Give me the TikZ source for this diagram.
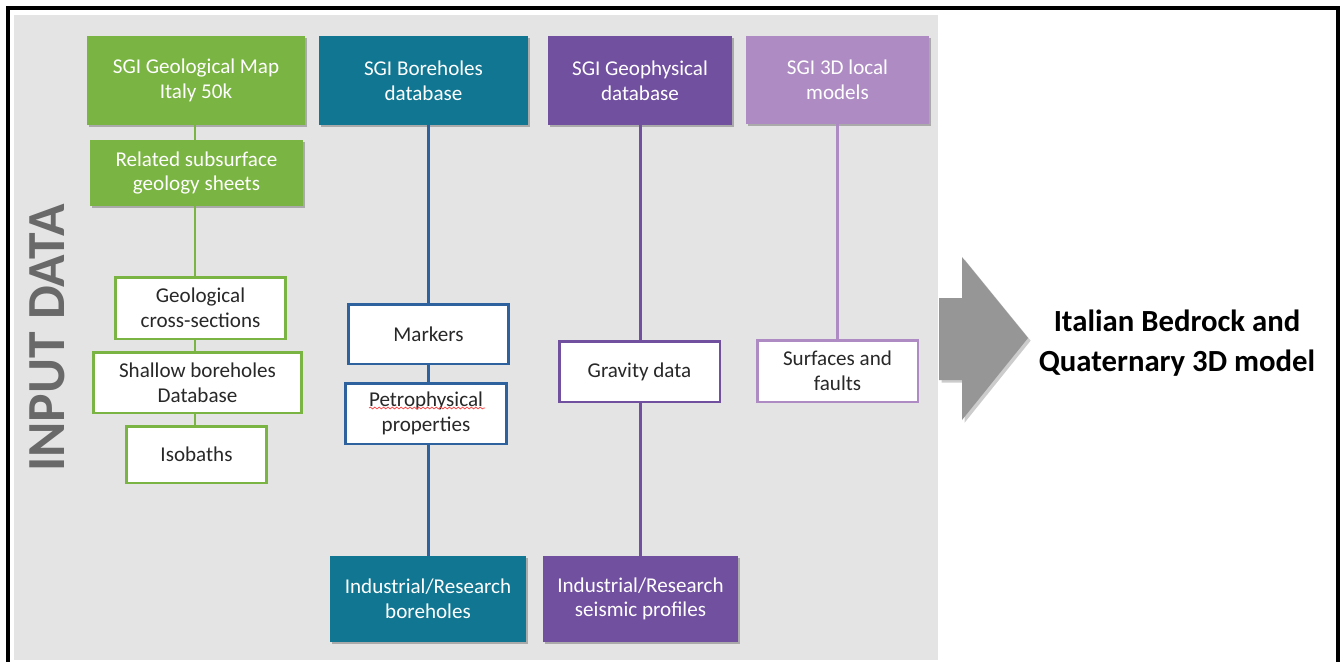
\documentclass[tikz,border=0pt]{standalone}
\usepackage{fontspec}
\setmainfont{Carlito}
\usetikzlibrary{shadows,decorations.pathmorphing}
\definecolor{grn}{RGB}{122,180,66}
\definecolor{teal}{RGB}{16,118,145}
\definecolor{blu}{RGB}{46,98,158}
\definecolor{purp}{RGB}{113,80,160}
\definecolor{lilac}{RGB}{174,140,195}
\definecolor{panel}{RGB}{228,228,228}
\definecolor{txt}{RGB}{40,40,40}
\definecolor{inpgray}{RGB}{105,105,105}
\definecolor{arrgray}{RGB}{150,150,150}
\begin{document}
\begin{tikzpicture}[x=0.02cm,y=-0.02cm,
  boxfont/.style={font=\fontsize{12}{14}\selectfont},
  topbox/.style={boxfont, text=white, align=center, inner sep=0pt,
    drop shadow={shadow xshift=1.2pt, shadow yshift=-1.2pt, opacity=0.25, fill=black}},
  subbox/.style={boxfont, fill=white, text=txt, align=center, inner sep=0pt, line width=1.7pt},
  link/.style={line width=1.7pt}
]
\useasboundingbox (0,0) rectangle (1341,662);
\fill[white] (0,0) rectangle (1341,662);
% panel and frame
\fill[panel] (14,15) rectangle (938,660);
\draw[line width=1.8pt, black] (8,662) -- (8,8) -- (1338,8) -- (1338,662);

% column x positions
\coordinate (gx) at (195,0);
\coordinate (bx) at (428,0);
\coordinate (px) at (640,0);
\coordinate (lx) at (837,0);

% green column
\node[topbox, fill=grn, minimum width=4.36cm, minimum height=1.78cm] (g1) at (196,80.5) {SGI Geological Map\\Italy 50k};
\node[topbox, fill=grn, minimum width=4.26cm, minimum height=1.32cm] (g2) at (196.5,173) {Related subsurface\\geology sheets};
\node[subbox, draw=grn, minimum width=3.42cm, minimum height=1.24cm] (g3) at (200.5,308) {Geological\\cross-sections};
\node[subbox, draw=grn, minimum width=4.18cm, minimum height=1.22cm] (g4) at (197.5,382.5) {Shallow boreholes\\Database};
\node[subbox, draw=grn, minimum width=2.82cm, minimum height=1.14cm] (g5) at (196.5,454.5) {Isobaths};
\draw[link, grn] (g1.south -| gx) -- (g2.north -| gx);
\draw[link, grn] (g2.south -| gx) -- (g3.north -| gx);
\draw[link, grn] (g3.south -| gx) -- (g4.north -| gx);
\draw[link, grn] (g4.south -| gx) -- (g5.north -| gx);

% blue column
\node[topbox, fill=teal, minimum width=4.18cm, minimum height=1.78cm] (b1) at (423.5,80.5) {SGI Boreholes\\database};
\node[subbox, draw=blu, minimum width=3.22cm, minimum height=1.2cm] (b2) at (428.5,334) {Markers};
\node[subbox, draw=blu, minimum width=3.24cm, minimum height=1.22cm] (b3) at (426,413.5) {Petrophysical\\properties};
\node[topbox, fill=teal, minimum width=3.92cm, minimum height=1.72cm] (b4) at (428,599) {Industrial/Research\\boreholes};
\draw[link, blu] (b1.south -| bx) -- (b2.north -| bx);
\draw[link, blu] (b2.south -| bx) -- (b3.north -| bx);
\draw[link, blu] (b3.south -| bx) -- (b4.north -| bx);
\draw[red!75, line width=0.4pt, decorate, decoration={snake, amplitude=0.5pt, segment length=2.5pt}]
  (369,408) -- (485,408);

% purple column
\node[topbox, fill=purp, minimum width=3.68cm, minimum height=1.78cm] (p1) at (640,80.5) {SGI Geophysical\\database};
\node[subbox, draw=purp, minimum width=3.22cm, minimum height=1.22cm] (p2) at (639.5,371.5) {Gravity data};
\node[topbox, fill=purp, minimum width=3.9cm, minimum height=1.72cm] (p3) at (640.5,599) {Industrial/Research\\seismic profiles};
\draw[link, purp] (p1.south -| px) -- (p2.north -| px);
\draw[link, purp] (p2.south -| px) -- (p3.north -| px);

% lilac column
\node[topbox, fill=lilac, minimum width=3.66cm, minimum height=1.76cm] (l1) at (837.5,80) {SGI 3D local\\models};
\node[subbox, draw=lilac, minimum width=3.22cm, minimum height=1.24cm] (l2) at (837.5,371) {Surfaces and\\faults};
\draw[link, lilac] (l1.south -| lx) -- (l2.north -| lx);

% input data label
\node[rotate=90, font=\bfseries\fontsize{30.5}{31}\selectfont, text=inpgray, inner sep=0pt] (inp) at (47.5,338) {INPUT DATA};

% big arrow
\fill[arrgray, drop shadow={shadow xshift=1.5pt, shadow yshift=-1.5pt, opacity=0.2, fill=black}]
  (939,298) -- (962,298) -- (962,257) -- (1028,338) -- (962,420) -- (962,380) -- (939,380) -- cycle;

% result
\node[font=\bfseries\fontsize{17.5}{22.7}\selectfont, align=center, text=black] (res) at (1177,343) {Italian Bedrock and\\Quaternary 3D model};
\end{tikzpicture}
\end{document}
